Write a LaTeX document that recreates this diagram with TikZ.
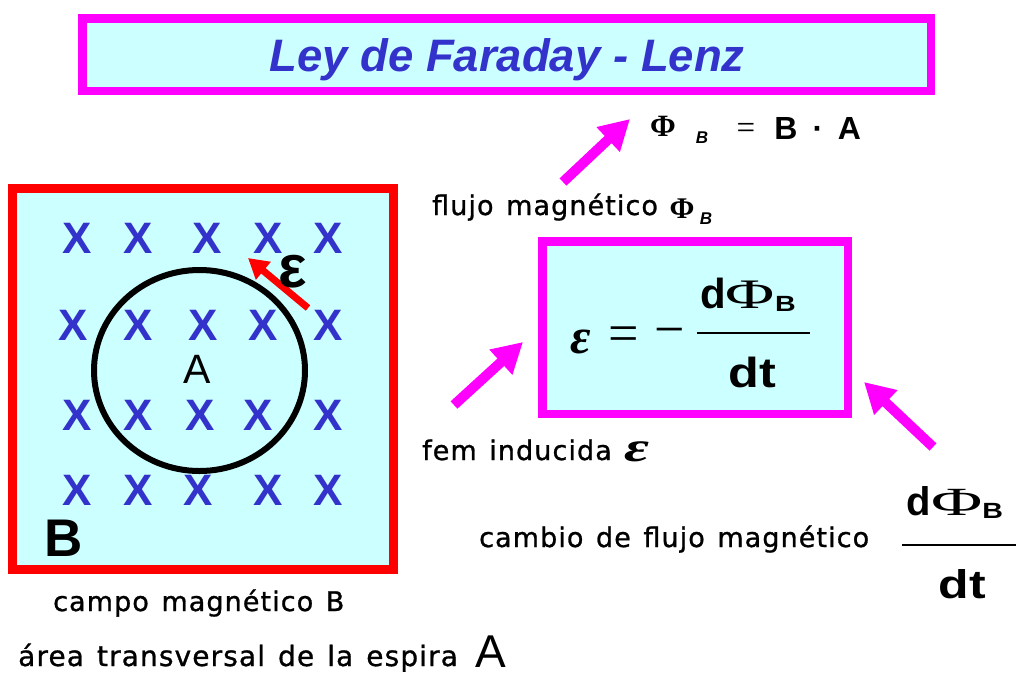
\documentclass[tikz,border=0pt]{standalone}
\usepackage{fontspec}
\setmainfont{Liberation Sans}
\newfontfamily\timesfont{Liberation Serif}
\newfontfamily\comicfont[LetterSpace=4,FakeBold=1,WordSpace=1.3]{DejaVu Sans}
\usetikzlibrary{arrows.meta,shapes.geometric}
\definecolor{cyanfill}{HTML}{CCFFFF}
\definecolor{mag}{HTML}{FF00FF}
\definecolor{xblue}{HTML}{3333CC}
\definecolor{redb}{HTML}{FF0000}
\newcommand\fsz[1]{\fontsize{#1}{#1}\selectfont}
\tikzset{
  magbox/.style={draw=mag, fill=cyanfill, line width=8.5pt, inner sep=0pt},
  xmark/.style={text=xblue, font=\fsz{44}\bfseries, inner sep=0pt},
  magarrow/.style={draw=mag, line width=10pt, -{Triangle[length=30pt,width=32pt]}},
  redarrow/.style={draw=redb, line width=7pt, -{Triangle[length=20pt,width=22pt]}},
  lbl/.style={font=\comicfont\fsz{27}, inner sep=0pt, anchor=base west},
  txt/.style={inner sep=0pt, anchor=base},
  fbar/.style={line width=2.8pt}
}
\begin{document}
\begin{tikzpicture}[x=1pt,y=-1pt]
\useasboundingbox (0,0) rectangle (1016,675);

% title
\node[magbox, minimum width=848.5pt, minimum height=72.5pt] (title) at (506.5,54.5) {};
\node[txt, text=xblue, font=\fsz{45.5}\bfseries\itshape] (titletext) at (507,71) {Ley de Faraday - Lenz};

% field box
\node[draw=redb, fill=cyanfill, line width=9pt, inner sep=0pt, minimum width=381pt, minimum height=381pt] (field) at (203,379) {};

% X marks
\foreach \xx/\yy [count=\i] in {77/238,138/238,207/238,268/238,328/238,
  73/325,138/325,203/325,263/325,328/325,
  77/415,138/415,200/415,258/415,328/415,
  77/490,138/490,198/490,268/490,328/490}
  \node[xmark] (x\i) at (\xx,\yy) {X};

% loop
\node[draw=black, line width=6pt, ellipse, minimum width=211pt, minimum height=201pt, inner sep=0pt] (loop) at (199.5,370.5) {};
\node[txt, font=\fsz{41}] (areaA) at (197,383) {A};
\node[txt, font=\fsz{53}\bfseries] (fieldB) at (64,556) {B};

% emf arrow on loop
\coordinate (ra1) at (308,308);
\coordinate (ra2) at (248,258);
\draw[redarrow] (ra1) -- (ra2);
\node[txt, font=\fsz{60}\bfseries] (emfsym) at (293,287) {ε};

% Phi_B = B . A
\node[txt, font=\timesfont\fsz{31}\bfseries] (phi1) at (663,136) {Φ};
\node[txt, font=\fsz{17}\bfseries\itshape] (phisub1) at (702,143) {B};
\node[txt, font=\timesfont\fsz{33}] (eq1) at (746,138) {=};
\node[txt, font=\fsz{32}\bfseries] (B1) at (786,139) {B};
\node[txt, font=\fsz{32}\bfseries] (dot1) at (818,139) {·};
\node[txt, font=\fsz{32}\bfseries] (A1) at (849.5,139) {A};

% flujo label
\node[lbl] (flujo) at (432,215) {flujo magnético};
\node[txt, font=\timesfont\fsz{30}\bfseries] (phi2) at (682,218) {Φ};
\node[txt, font=\fsz{17}\bfseries\itshape] (phisub2) at (706,224) {B};
\coordinate (a1t) at (563,182);
\coordinate (a1h) at (630,119);
\draw[magarrow] (a1t) -- (a1h);

% formula box
\node[magbox, minimum width=305.5pt, minimum height=172.5pt] (formula) at (695,327.5) {};
\node[txt, font=\timesfont\fsz{50}\bfseries\itshape] (eps) at (581,353) {ε};
\node[font=\timesfont\fsz{54}, inner sep=0pt] (eq2) at (624,339) {=};
\node[font=\timesfont\fsz{54}, inner sep=0pt] (minus) at (670,338) {−};
\node[txt] (num1) at (748,308) {{\fsz{42}\bfseries d}{\timesfont\fsz{42}\scalebox{1.6}[1]{Φ}}\raisebox{-0.33em}{\fsz{22}\bfseries\scalebox{1.3}[1]{B}}};
\coordinate (bar1l) at (697,333);
\coordinate (bar1r) at (810,333);
\draw[fbar] (bar1l) -- (bar1r);
\node[txt, font=\fsz{42}\bfseries] (den1) at (752.5,387) {\scalebox{1.2}[1]{dt}};

% fem label
\node[lbl] (fem) at (422,460) {fem inducida};
\node[txt, font=\timesfont\fsz{42}\bfseries\itshape] (eps2) at (637,461) {\scalebox{1.45}[1]{ε}};
\coordinate (a2t) at (454,405);
\coordinate (a2h) at (523,342);
\draw[magarrow] (a2t) -- (a2h);

% cambio label
\node[lbl] (cambio) at (479,547) {cambio de flujo magnético};
\coordinate (a3t) at (933,447);
\coordinate (a3h) at (864,382);
\draw[magarrow] (a3t) -- (a3h);
\node[txt] (num2) at (955,515) {{\fsz{40}\bfseries d}{\timesfont\fsz{40}\scalebox{1.75}[1]{Φ}}\raisebox{-0.35em}{\fsz{22}\bfseries\scalebox{1.3}[1]{B}}};
\coordinate (bar2l) at (902,545);
\coordinate (bar2r) at (1016,545);
\draw[fbar] (bar2l) -- (bar2r);
\node[txt, font=\fsz{40}\bfseries] (den2) at (962.5,598) {\scalebox{1.25}[1]{dt}};

% bottom labels
\node[lbl] (campo) at (53,611) {campo magnético B};
\node[lbl, font=\comicfont\fsz{28}] (area) at (18,666) {área transversal de la espira};
\node[txt, font=\fsz{46}] (areaA2) at (491,667) {A};
\end{tikzpicture}
\end{document}
